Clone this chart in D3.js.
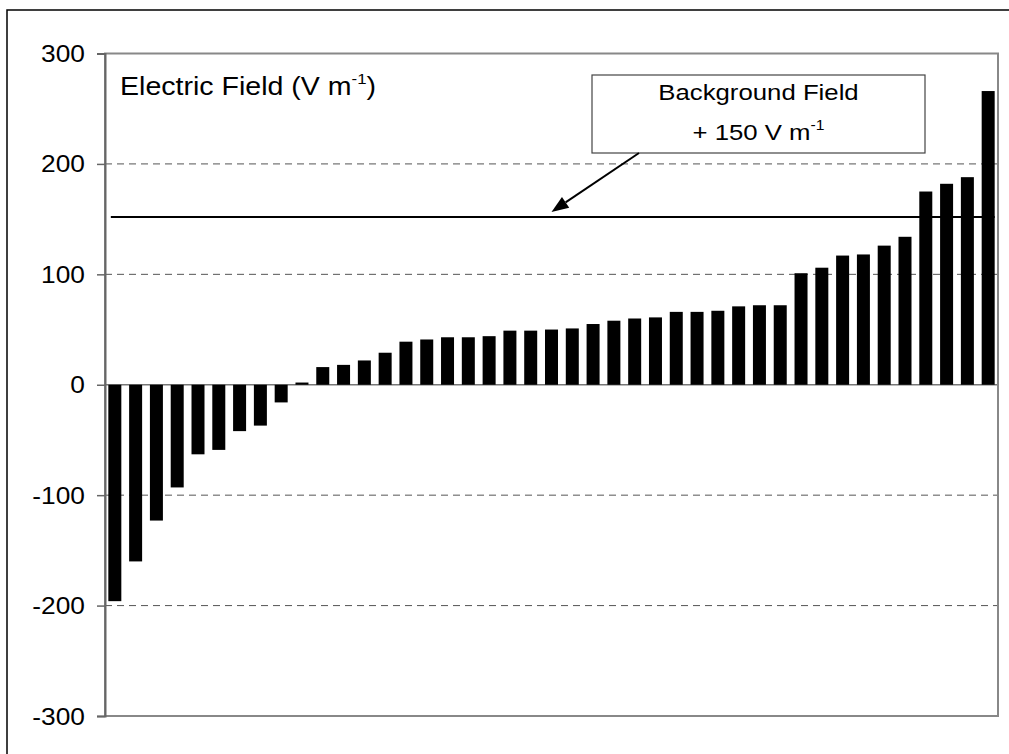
<!DOCTYPE html>
<html>
<head>
<meta charset="utf-8">
<script src="https://cdn.jsdelivr.net/npm/d3@7"></script>
<style>
  html, body { margin: 0; padding: 0; background: #fff; }
  svg { display: block; }
  text { font-family: "Liberation Sans", Arial, Helvetica, sans-serif; fill: #000; }
</style>
</head>
<body>
<svg id="chart" width="1009" height="754"></svg>
<script>
// Electric field readings, sorted from most negative to most positive (V m^-1)
const stations = d3.range(1, 44).map(i => "S" + i);
const fieldValues = [
  -196, -160, -123, -93, -63, -59, -42, -37, -16, 2,
  16, 18, 22, 29, 39, 41, 43, 43, 44, 49,
  49, 50, 51, 55, 58, 60, 61, 66, 66, 67,
  71, 72, 72, 101, 106, 117, 118, 126, 134, 175,
  182, 188, 266
];
const yTicks = [-300, -200, -100, 0, 100, 200, 300];
const gridValues = [-200, -100, 100, 200];
const backgroundField = 2;
const thresholdOffset = 150;
const thresholdValue = backgroundField + thresholdOffset;

const svg = d3.select("#chart");
const plot = { left: 105, right: 998, top: 53.5, bottom: 716 };
const stretch = 1.12; // text is drawn slightly wide

const x = d3.scaleBand()
  .domain(stations)
  .range([plot.left, plot.right])
  .paddingInner(0.375)
  .paddingOuter(0.16);

const y = d3.scaleLinear()
  .domain([-300, 300])
  .range([plot.bottom, plot.top]);

// outer frame of the figure
svg.append("rect")
  .attr("x", 7).attr("y", 10)
  .attr("width", 1200).attr("height", 1000)
  .attr("fill", "none").attr("stroke", "#000").attr("stroke-width", 1.5);

// dashed gridlines
svg.append("g").selectAll("line")
  .data(gridValues)
  .join("line")
  .attr("x1", plot.left).attr("x2", plot.right)
  .attr("y1", d => y(d)).attr("y2", d => y(d))
  .attr("stroke", "#555").attr("stroke-width", 1)
  .attr("stroke-dasharray", "7,5");

// zero line
svg.append("line")
  .attr("x1", plot.left).attr("x2", plot.right)
  .attr("y1", y(0)).attr("y2", y(0))
  .attr("stroke", "#777").attr("stroke-width", 1.5);

// plot frame
svg.append("rect")
  .attr("x", plot.left).attr("y", plot.top)
  .attr("width", plot.right - plot.left).attr("height", plot.bottom - plot.top)
  .attr("fill", "none").attr("stroke", "#888").attr("stroke-width", 2);

// y axis: ticks and labels (plain hyphen for negatives)
const fmt = d => String(d);
const yAxis = d3.axisLeft(y).tickValues(yTicks).tickSize(8).tickFormat(fmt);
const gy = svg.append("g").attr("transform", `translate(${plot.left},0)`).call(yAxis);
gy.select(".domain").attr("stroke", "#666").attr("stroke-width", 2);
gy.selectAll(".tick line").attr("stroke", "#666").attr("stroke-width", 1.5);
gy.selectAll(".tick text").remove();
gy.selectAll(".tick").append("g")
  .attr("transform", `translate(-20,8) scale(${stretch},1)`)
  .append("text")
  .attr("text-anchor", "end")
  .attr("font-size", 23.5)
  .text(fmt);

// bars
svg.append("g").selectAll("rect")
  .data(fieldValues)
  .join("rect")
  .attr("x", (d, i) => x(stations[i]))
  .attr("width", x.bandwidth())
  .attr("y", d => y(Math.max(0, d)))
  .attr("height", d => Math.abs(y(d) - y(0)))
  .attr("fill", "#000");

// background + 150 V m^-1 reference line
const lineStart = x(stations[0]) + 2.5;
const lineEnd = x(stations[stations.length - 1]) + x.bandwidth();
svg.append("line")
  .attr("x1", lineStart).attr("x2", lineEnd)
  .attr("y1", y(thresholdValue)).attr("y2", y(thresholdValue))
  .attr("stroke", "#000").attr("stroke-width", 2);

// axis title inside the plot
const title = svg.append("g")
  .attr("transform", `translate(120,95) scale(${stretch},1)`)
  .append("text")
  .attr("font-size", 25.5);
title.append("tspan").text("Electric Field (V m");
title.append("tspan").attr("font-size", 15).attr("dy", -11).text("-1");
title.append("tspan").attr("dy", 11).text(")");

// annotation box
const box = { x: 592, y: 75, w: 333, h: 78 };
svg.append("rect")
  .attr("x", box.x).attr("y", box.y)
  .attr("width", box.w).attr("height", box.h)
  .attr("fill", "#fff").attr("stroke", "#444").attr("stroke-width", 1.2);
const cx = box.x + box.w / 2;
svg.append("g")
  .attr("transform", `translate(${cx},100) scale(${stretch},1)`)
  .append("text")
  .attr("text-anchor", "middle").attr("font-size", 23)
  .text("Background Field");
const l2 = svg.append("g")
  .attr("transform", `translate(${cx},140) scale(${stretch},1)`)
  .append("text")
  .attr("text-anchor", "middle").attr("font-size", 23);
l2.append("tspan").text("+ 150 V m");
l2.append("tspan").attr("font-size", 14).attr("dy", -10).text("-1");

// arrow from the box to the reference line
const tail = [639, box.y + box.h];
const tip = [(plot.left + plot.right) / 2, y(thresholdValue) - 5];
const ang = Math.atan2(tip[1] - tail[1], tip[0] - tail[0]);
const headLen = 17, headHalf = 6.5;
const base = [tip[0] - headLen * Math.cos(ang), tip[1] - headLen * Math.sin(ang)];
svg.append("line")
  .attr("x1", tail[0]).attr("y1", tail[1])
  .attr("x2", base[0]).attr("y2", base[1])
  .attr("stroke", "#000").attr("stroke-width", 2);
const px = -Math.sin(ang), py = Math.cos(ang);
svg.append("path")
  .attr("d", d3.line()([
    tip,
    [base[0] + headHalf * px, base[1] + headHalf * py],
    [base[0] - headHalf * px, base[1] - headHalf * py]
  ]) + "Z")
  .attr("fill", "#000");
</script>
</body>
</html>
